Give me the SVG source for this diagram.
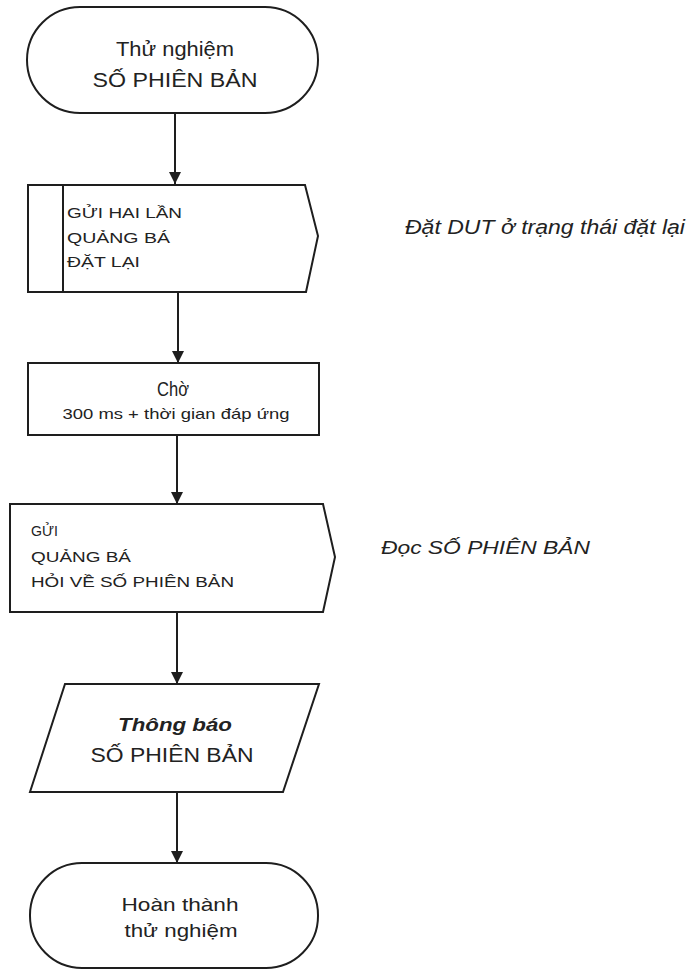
<svg xmlns="http://www.w3.org/2000/svg" width="689" height="970" viewBox="0 0 689 970">
<style>
  .shape { fill: #ffffff; stroke: #1e1e1e; stroke-width: 2; }
  .line { fill: none; stroke: #1e1e1e; stroke-width: 2; }
  .t { font-family: "Liberation Sans", Arial, sans-serif; fill: #222222; }
  .c { text-anchor: middle; }
  .big { font-size: 20px; }
  .small { font-size: 15px; }
  .it { font-style: italic; }
  .bi { font-style: italic; font-weight: bold; }
</style>
<defs>
  <marker id="arrow" viewBox="0 0 12 12" refX="12" refY="6" markerWidth="12" markerHeight="12" markerUnits="userSpaceOnUse" orient="auto">
    <path d="M0,0 L12,6 L0,12 Z" fill="#1e1e1e"/>
  </marker>
</defs>
<rect x="0" y="0" width="689" height="970" fill="#ffffff"/>

<g id="connectors">
  <line class="line" x1="175" y1="113" x2="175" y2="184" marker-end="url(#arrow)"/>
  <line class="line" x1="178" y1="292" x2="178" y2="363" marker-end="url(#arrow)"/>
  <line class="line" x1="177" y1="435" x2="177" y2="504" marker-end="url(#arrow)"/>
  <line class="line" x1="177" y1="612" x2="177" y2="684" marker-end="url(#arrow)"/>
  <line class="line" x1="177" y1="792" x2="177" y2="863" marker-end="url(#arrow)"/>
</g>

<g id="start">
  <rect class="shape" x="27" y="7" width="291" height="106" rx="53" ry="53"/>
  <text class="t big c" x="175" y="56" textLength="118" lengthAdjust="spacingAndGlyphs">Thử nghiệm</text>
  <text class="t big c" x="175" y="87" textLength="165" lengthAdjust="spacingAndGlyphs">SỐ PHIÊN BẢN</text>
</g>

<g id="send-reset">
  <path class="shape" d="M28,185 H305 L318,236 L306,292 H28 Z"/>
  <line class="line" x1="63" y1="185" x2="63" y2="292"/>
  <text class="t small" x="67" y="218" textLength="115" lengthAdjust="spacingAndGlyphs">GỬI HAI LẦN</text>
  <text class="t small" x="67" y="243" textLength="103" lengthAdjust="spacingAndGlyphs">QUẢNG BÁ</text>
  <text class="t small" x="67" y="267" textLength="73" lengthAdjust="spacingAndGlyphs">ĐẶT LẠI</text>
</g>

<g id="note-reset">
  <text class="t it" font-size="20" x="405" y="234" textLength="280" lengthAdjust="spacingAndGlyphs">Đặt DUT ở trạng thái đặt lại</text>
</g>

<g id="wait">
  <rect class="shape" x="28" y="363" width="291" height="72"/>
  <text class="t c" font-size="20" x="173" y="396" textLength="32" lengthAdjust="spacingAndGlyphs">Chờ</text>
  <text class="t c" font-size="15" x="176" y="419" textLength="227" lengthAdjust="spacingAndGlyphs">300 ms + thời gian đáp ứng</text>
</g>

<g id="send-query">
  <path class="shape" d="M10,504 H323 L335,557 L323,612 H10 Z"/>
  <text class="t small" x="31" y="536" textLength="27" lengthAdjust="spacingAndGlyphs">GỬI</text>
  <text class="t small" x="31" y="562" textLength="100" lengthAdjust="spacingAndGlyphs">QUẢNG BÁ</text>
  <text class="t small" x="31" y="587" textLength="203" lengthAdjust="spacingAndGlyphs">HỎI VỀ SỐ PHIÊN BẢN</text>
</g>

<g id="note-read">
  <text class="t it" font-size="19" x="381" y="554" textLength="209" lengthAdjust="spacingAndGlyphs">Đọc SỐ PHIÊN BẢN</text>
</g>

<g id="report">
  <path class="shape" d="M65,684 H319 L283,792 H30 Z"/>
  <text class="t bi c" font-size="19" x="175" y="731" textLength="114" lengthAdjust="spacingAndGlyphs">Thông báo</text>
  <text class="t big c" x="172" y="762" textLength="163" lengthAdjust="spacingAndGlyphs">SỐ PHIÊN BẢN</text>
</g>

<g id="end">
  <rect class="shape" x="30" y="863" width="288" height="105" rx="52" ry="52"/>
  <text class="t c" font-size="19" x="180" y="911" textLength="117" lengthAdjust="spacingAndGlyphs">Hoàn thành</text>
  <text class="t c" font-size="19" x="181" y="937" textLength="113" lengthAdjust="spacingAndGlyphs">thử nghiệm</text>
</g>
</svg>
